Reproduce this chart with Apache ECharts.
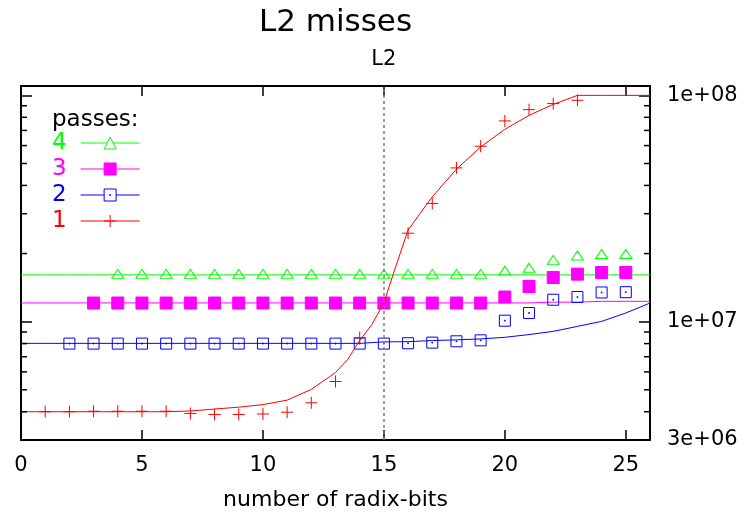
<!DOCTYPE html>
<html><head><meta charset="utf-8">
<script src="https://cdn.jsdelivr.net/npm/echarts@6/dist/echarts.min.js"></script>
<style>html,body{margin:0;padding:0;background:#fff}#c{width:749px;height:519px}</style>
</head><body><div id="c"></div>
<script>
const FONT = 'DejaVu Sans';
const chartTitle = 'L2 misses';
const xTitle = 'number of radix-bits';
const cacheLineX = 15;
const cacheLineLabel = 'L2';
const legendTitle = 'passes:';
const seriesNames = ['4', '3', '2', '1'];

// x range / ticks
const xMin = 0, xMax = 26, xStep = 5;
// y (log) range / labelled ticks
const yMin = 3e6, yMax = 1.1e8;
const yTickValues = [3e6, 1e7, 1e8];
const yTickLabels = ['3e+06', '1e+07', '1e+08'];
const yMinorTicks = [4e6, 5e6, 6e6, 7e6, 8e6, 9e6, 2e7, 3e7, 4e7, 5e7, 6e7, 7e7, 8e7, 9e7];

// measured points
const pts4X = [4,5,6,7,8,9,10,11,12,13,14,15,16,17,18,19,20,21,22,23,24,25];
const pts4  = [1.626e7,1.626e7,1.626e7,1.626e7,1.626e7,1.626e7,1.626e7,1.626e7,1.626e7,1.626e7,1.626e7,1.626e7,1.626e7,1.626e7,1.626e7,1.626e7,1.68e7,1.73e7,1.875e7,1.96e7,1.99e7,1.99e7];
const pts3X = [3,4,5,6,7,8,9,10,11,12,13,14,15,16,17,18,19,20,21,22,23,24,25];
const pts3  = [1.209e7,1.209e7,1.209e7,1.209e7,1.209e7,1.209e7,1.209e7,1.209e7,1.209e7,1.209e7,1.209e7,1.209e7,1.209e7,1.209e7,1.209e7,1.209e7,1.209e7,1.285e7,1.43e7,1.567e7,1.622e7,1.649e7,1.649e7];
const pts2X = [2,3,4,5,6,7,8,9,10,11,12,13,14,15,16,17,18,19,20,21,22,23,24,25];
const pts2  = [8.0e6,8.0e6,8.0e6,8.0e6,8.0e6,8.0e6,8.0e6,8.0e6,8.0e6,8.0e6,8.0e6,8.0e6,8.0e6,8.0e6,8.03e6,8.08e6,8.19e6,8.27e6,1.01e7,1.092e7,1.25e7,1.285e7,1.346e7,1.35e7];
const pts1X = [1,2,3,4,5,6,7,8,9,10,11,12,13,14,16,17,18,19,20,21,22,23];
const pts1  = [4.0e6,4.0e6,4.02e6,4.02e6,4.02e6,4.02e6,3.93e6,3.89e6,3.89e6,3.91e6,3.98e6,4.38e6,5.44e6,8.5e6,2.46e7,3.33e7,4.78e7,5.96e7,7.71e7,8.65e7,9.2e7,9.51e7];

// model curves
const modelX = [0,1,2,3,4,5,6,7,8,9,10,11,12,13,14,15,16,17,18,19,20,21,22,23,24,25,26];
const model4 = [1.61e7,1.61e7,1.61e7,1.61e7,1.61e7,1.61e7,1.61e7,1.61e7,1.61e7,1.61e7,1.61e7,1.61e7,1.61e7,1.61e7,1.61e7,1.61e7,1.61e7,1.61e7,1.61e7,1.61e7,1.61e7,1.61e7,1.61e7,1.61e7,1.61e7,1.61e7,1.61e7];
const model3 = [1.21e7,1.21e7,1.21e7,1.21e7,1.21e7,1.21e7,1.21e7,1.21e7,1.21e7,1.21e7,1.21e7,1.21e7,1.21e7,1.21e7,1.21e7,1.21e7,1.21e7,1.21e7,1.21e7,1.21e7,1.21e7,1.21e7,1.22e7,1.22e7,1.23e7,1.23e7,1.23e7];
const model2 = [8.02e6,8.02e6,8.02e6,8.02e6,8.02e6,8.02e6,8.02e6,8.02e6,8.02e6,8.02e6,8.02e6,8.02e6,8.02e6,8.02e6,8.02e6,8.14e6,8.16e6,8.25e6,8.31e6,8.39e6,8.53e6,8.77e6,9.06e6,9.53e6,1.003e7,1.092e7,1.209e7];
const model1X = [0,1,2,3,4,5,6,7,8,9,10,11,12,13,13.5,14,14.5,15,15.5,16,16.5,17,18,19,20,21,22,23,24,25,26];
const model1  = [4.0e6,4.0e6,4.0e6,4.0e6,4.0e6,4.0e6,4.0e6,4.03e6,4.11e6,4.19e6,4.30e6,4.50e6,5.02e6,5.96e6,6.8e6,8.25e6,9.7e6,1.213e7,1.765e7,2.54e7,3.01e7,3.56e7,4.72e7,5.92e7,7.08e7,8.16e7,9.12e7,1e8,1e8,1e8,1e8];

const GREEN = '#00ff00', MAGENTA = '#ff00ff', BLUE = '#0000ff', RED = '#ff0000';
const PLUS = 'path://M0,5L10,5M5,0L5,10';
const BOX = 'path://M0,0L10,0L10,10L0,10Z M4.6,4.6L5.4,4.6L5.4,5.4L4.6,5.4Z';

const zip = (xs, ys) => xs.map((x, i) => [x, ys[i]]);

function yLabel(v) {
  for (let i = 0; i < yTickValues.length; i++) {
    if (Math.abs(Math.log10(v) - Math.log10(yTickValues[i])) < 1e-6) return yTickLabels[i];
  }
  return '';
}

const axisLineStyle = { color: '#000', width: 2 };
const tickStyle = { color: '#000', width: 1.5 };

function lineSeries(name, color, symbol, symbolSize, fill, data, extra) {
  return Object.assign({
    type: 'line', name, data, symbol, symbolSize, showSymbol: false,
    lineStyle: { color, width: 1 },
    itemStyle: { color: fill, borderColor: color, borderWidth: 1 },
    silent: true, animation: false, z: 2
  }, extra || {});
}
function scatterSeries(name, color, symbol, symbolSize, fill, data) {
  return {
    type: 'scatter', name, data, symbol, symbolSize,
    itemStyle: { color: fill, borderColor: color, borderWidth: 1, opacity: 1 },
    silent: true, animation: false, z: 3
  };
}

const chart = echarts.init(document.getElementById('c'), null, { renderer: 'canvas' });
chart.setOption({
  backgroundColor: '#fff',
  animation: false,
  grid: { left: 21, right: 99, top: 86, bottom: 79, containLabel: false, outerBoundsMode: 'none' },
  xAxis: [{
    type: 'value', position: 'bottom', min: xMin, max: xMax, interval: xStep,
    axisLine: { onZero: false, lineStyle: axisLineStyle },
    axisTick: { inside: true, length: 10, lineStyle: tickStyle },
    splitLine: { show: false },
    axisLabel: { margin: 15, color: '#000', fontFamily: FONT, fontSize: 21,
      formatter: v => (v % xStep === 0 ? String(v) : '') },
    name: xTitle, nameLocation: 'middle', nameGap: 49,
    nameTextStyle: { color: '#000', fontFamily: FONT, fontSize: 22 }
  }, {
    type: 'value', position: 'top', min: xMin, max: xMax, interval: xStep,
    axisLine: { onZero: false, lineStyle: axisLineStyle },
    axisTick: { inside: true, length: 10, lineStyle: tickStyle },
    splitLine: { show: false }, axisLabel: { show: false },
    name: chartTitle, nameLocation: 'middle', nameGap: 48,
    nameTextStyle: { color: '#000', fontFamily: FONT, fontSize: 31 }
  }],
  yAxis: [{
    type: 'log', logBase: 10, position: 'right', min: yMin, max: yMax,
    axisLine: { onZero: false, lineStyle: axisLineStyle },
    axisTick: { inside: true, length: 11, lineStyle: tickStyle },
    splitLine: { show: false },
    axisLabel: { margin: 17, color: '#000', fontFamily: FONT, fontSize: 21, formatter: yLabel,
      showMinLabel: true, showMaxLabel: true }
  }, {
    type: 'log', logBase: 10, position: 'left', min: yMin, max: yMax,
    axisLine: { onZero: false, lineStyle: axisLineStyle },
    axisTick: { inside: true, length: 11, lineStyle: tickStyle },
    splitLine: { show: false }, axisLabel: { show: false }
  }],
  legend: {
    data: [
      { name: seriesNames[0], textStyle: { color: GREEN }, itemStyle: { color: '#fff', borderColor: GREEN, borderWidth: 1 } },
      { name: seriesNames[1], textStyle: { color: MAGENTA }, itemStyle: { color: MAGENTA, borderColor: MAGENTA, borderWidth: 1 } },
      { name: seriesNames[2], textStyle: { color: BLUE }, itemStyle: { color: '#fff', borderColor: BLUE, borderWidth: 1 } },
      { name: seriesNames[3], textStyle: { color: RED }, itemStyle: { color: RED, borderColor: RED, borderWidth: 1 } }
    ],
    orient: 'vertical', left: 52, top: 130, align: 'right',
    itemWidth: 59, itemHeight: 15, itemGap: 0, padding: 0,
    selectedMode: false,
    lineStyle: { width: 1 },
    textStyle: { fontFamily: FONT, fontSize: 23, lineHeight: 26, padding: [0, 9, 0, 0] }
  },
  graphic: [{
    type: 'text', left: 52, top: 109,
    style: { text: legendTitle, font: '23px "DejaVu Sans"', fill: '#000' }
  }],
  series: [
    lineSeries(seriesNames[0], GREEN, 'triangle', 12, '#fff', zip(modelX, model4), {
      markLine: {
        silent: true, symbol: ['none', 'none'], animation: false,
        lineStyle: { color: '#808080', type: [3, 3], width: 1.5 },
        label: { show: true, position: 'end', formatter: cacheLineLabel, color: '#000',
          fontFamily: FONT, fontSize: 21, distance: 16 },
        data: [{ xAxis: cacheLineX }]
      }
    }),
    scatterSeries(seriesNames[0], GREEN, 'triangle', [12, 9], 'rgba(0,0,0,0)', zip(pts4X, pts4)),
    lineSeries(seriesNames[1], MAGENTA, 'rect', 12, MAGENTA, zip(modelX, model3)),
    scatterSeries(seriesNames[1], MAGENTA, 'rect', 12, MAGENTA, zip(pts3X, pts3)),
    lineSeries(seriesNames[2], BLUE, BOX, 12, '#fff', zip(modelX, model2)),
    scatterSeries(seriesNames[2], BLUE, BOX, 11, 'rgba(0,0,0,0)', zip(pts2X, pts2)),
    lineSeries(seriesNames[3], RED, PLUS, 12, RED, zip(model1X, model1), { z: 4 }),
    scatterSeries(seriesNames[3], RED, PLUS, 12, RED, zip(pts1X, pts1)),
    {
      type: 'custom', name: 'minor-ticks', silent: true, clip: false, z: 10, animation: false,
      xAxisIndex: 0, yAxisIndex: 0,
      data: yMinorTicks.map(v => [xMin, v]),
      renderItem(params, api) {
        const v = api.value(1);
        const l = api.coord([xMin, v]);
        const r = api.coord([xMax, v]);
        return { type: 'group', children: [
          { type: 'line', shape: { x1: l[0], y1: l[1], x2: l[0] + 6, y2: l[1] }, style: { stroke: '#000', lineWidth: 1.5 } },
          { type: 'line', shape: { x1: r[0] - 6, y1: r[1], x2: r[0], y2: r[1] }, style: { stroke: '#000', lineWidth: 1.5 } }
        ] };
      }
    }
  ]
});
</script>
</body></html>
